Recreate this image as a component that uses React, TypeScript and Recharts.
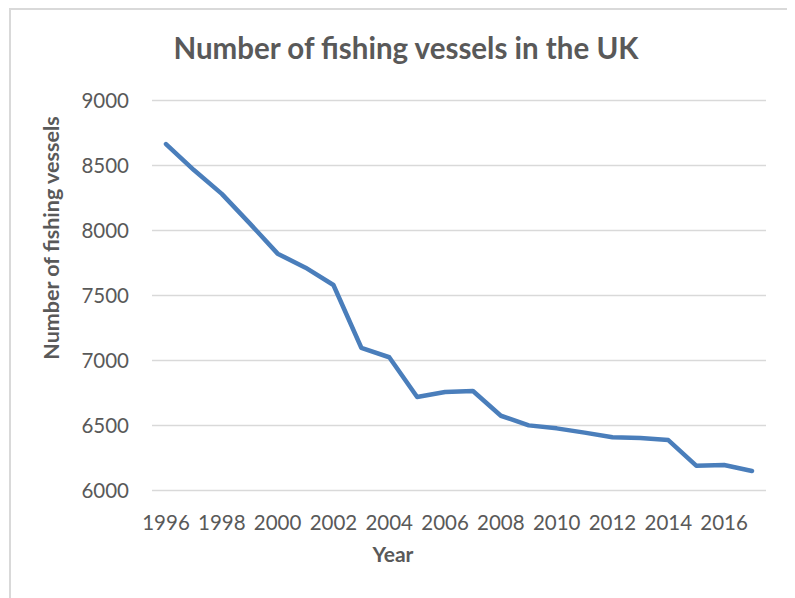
import React from "react";
import { LineChart, Line, XAxis, YAxis, CartesianGrid } from "recharts";

const years: number[] = [1996, 1997, 1998, 1999, 2000, 2001, 2002, 2003, 2004, 2005, 2006, 2007, 2008, 2009, 2010, 2011, 2012, 2013, 2014, 2015, 2016, 2017];
const vessels: number[] = [8665, 8465, 8282, 8055, 7822, 7714, 7581, 7098, 7025, 6719, 6758, 6765, 6575, 6501, 6478, 6445, 6409, 6404, 6388, 6191, 6196, 6150];
const yTicks: number[] = [6000, 6500, 7000, 7500, 8000, 8500, 9000];

const chartTitle = "Number of fishing vessels in the UK";
const xTitle = "Year";
const yTitle = "Number of fishing vessels";

const data = years.map((y, i) => ({ year: String(y), value: vessels[i] }));

const FONT = "Lato, 'Noto Sans', sans-serif";
const TEXT = "#595959";

export default function App() {
  const W = 787;
  const H = 590;
  return (
    <div style={{ position: "relative", width: W, height: H, background: "#fff", overflow: "hidden" }}>
      <div
        style={{
          position: "absolute",
          left: 1,
          top: 0,
          width: W + 20,
          height: H + 20,
          borderTop: "2px solid #d9d9d9",
          borderLeft: "2px solid #d9d9d9",
          boxSizing: "border-box",
        }}
      />
      <LineChart
        width={W}
        height={H}
        data={data}
        margin={{ top: 92.5, right: 29, bottom: 77.5, left: 0 }}
        style={{ position: "absolute", left: 0, top: 0 }}
      >
        <CartesianGrid vertical={false} stroke="#d9d9d9" strokeWidth={1.5} />
        <XAxis
          dataKey="year"
          interval={1}
          axisLine={false}
          tickLine={false}
          tickMargin={19}
          height={30}
          padding={{ left: 14, right: 14 }}
          tick={{ fill: TEXT, fontSize: 20.5, fontFamily: FONT }}
        />
        <YAxis
          domain={[6000, 9000]}
          ticks={yTicks}
          width={144}
          axisLine={false}
          tickLine={false}
          tickMargin={17}
          interval={0}
          tick={{ fill: TEXT, fontSize: 20.5, fontFamily: FONT }}
        />
        <Line
          type="linear"
          dataKey="value"
          stroke="#4a7ebb"
          strokeWidth={4.5}
          dot={false}
          activeDot={false}
          strokeLinecap="round"
          strokeLinejoin="round"
          isAnimationActive={false}
        />
      </LineChart>
      <svg
        width={W}
        height={H}
        style={{ position: "absolute", left: 0, top: 0, pointerEvents: "none" }}
      >
        <text x={398} y={51} textAnchor="middle" fontFamily={FONT} fontWeight="bold" fontSize={29.5} fill={TEXT}>
          {chartTitle}
        </text>
        <text x={385} y={554.3} textAnchor="middle" fontFamily={FONT} fontWeight="bold" fontSize={21} fill={TEXT}>
          {xTitle}
        </text>
        <text
          x={0}
          y={0}
          transform="translate(51,230) rotate(-90)"
          textAnchor="middle"
          fontFamily={FONT}
          fontWeight="bold"
          fontSize={21.5}
          fill={TEXT}
        >
          {yTitle}
        </text>
      </svg>
    </div>
  );
}
